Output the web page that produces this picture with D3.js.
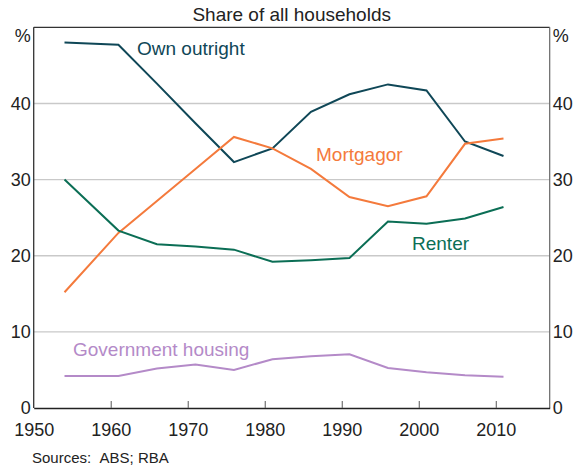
<!DOCTYPE html>
<html>
<head>
<meta charset="utf-8">
<script src="https://cdn.jsdelivr.net/npm/d3@7"></script>
<style>
  html, body { margin: 0; padding: 0; background: #fff; }
  svg { display: block; font-family: "Liberation Sans", Arial, sans-serif; }
</style>
</head>
<body>
<div id="chart"></div>
<script>
const years = [1954, 1961, 1966, 1971, 1976, 1981, 1986, 1991, 1996, 2001, 2006, 2011];
const ownOutright = [48.0, 47.7, 42.6, 37.4, 32.3, 34.1, 38.9, 41.2, 42.5, 41.7, 35.0, 33.1];
const mortgagor   = [15.2, 23.0, 27.2, 31.4, 35.6, 34.1, 31.4, 27.7, 26.5, 27.8, 34.7, 35.4];
const renter      = [30.0, 23.3, 21.5, 21.2, 20.8, 19.2, 19.4, 19.7, 24.5, 24.2, 24.9, 26.4];
const government  = [4.2, 4.2, 5.2, 5.7, 5.0, 6.4, 6.8, 7.05, 5.25, 4.7, 4.3, 4.1];
const xTicks = [1950, 1960, 1970, 1980, 1990, 2000, 2010];
const yTicks = [0, 10, 20, 30, 40];
const gridTicks = [10, 20, 30, 40];
const title = "Share of all households";
const source = "Sources:\u00a0\u00a0ABS; RBA";

const series = [
  { name: "Own outright", values: ownOutright, color: "#0f4757", lx: 137, ly: 55 },
  { name: "Mortgagor", values: mortgagor, color: "#f47a3c", lx: 316, ly: 161 },
  { name: "Renter", values: renter, color: "#0b6e55", lx: 412, ly: 250 },
  { name: "Government housing", values: government, color: "#b48ac8", lx: 73, ly: 356 }
];

const W = 573, H = 469;
const pLeft = 33.7, pRight = 549.7, pTop = 27.3, pBottom = 408;

const svg = d3.select("#chart").append("svg").attr("width", W).attr("height", H);

const x = d3.scaleLinear().domain([1950, 2017]).range([pLeft, pRight]);
const y = d3.scaleLinear().domain([0, 50]).range([pBottom, pTop]);

// gridlines
svg.append("g").selectAll("line").data(gridTicks).join("line")
  .attr("x1", pLeft).attr("x2", pRight)
  .attr("y1", d => y(d)).attr("y2", d => y(d))
  .attr("stroke", "#c9c9c9").attr("stroke-width", 1.4);

// frame
svg.append("line").attr("x1", pLeft).attr("x2", pRight).attr("y1", pTop).attr("y2", pTop)
  .attr("stroke", "#333").attr("stroke-width", 1.2);
svg.append("line").attr("x1", pRight).attr("x2", pRight).attr("y1", pTop).attr("y2", pBottom)
  .attr("stroke", "#666").attr("stroke-width", 1.2);
svg.append("line").attr("x1", pLeft).attr("x2", pLeft).attr("y1", pTop).attr("y2", pBottom)
  .attr("stroke", "#333").attr("stroke-width", 1.3);

// bottom axis
const xAxis = d3.axisBottom(x).tickValues(xTicks).tickFormat(d3.format("d"))
  .tickSizeInner(-7).tickSizeOuter(0).tickPadding(15);
const gx = svg.append("g").attr("transform", `translate(0,${pBottom})`).call(xAxis);
gx.select(".domain").attr("stroke", "#222").attr("stroke-width", 1.5);
gx.selectAll(".tick line").attr("stroke", "#666").attr("stroke-width", 1.1);
gx.selectAll(".tick text").attr("font-size", 18).attr("fill", "#222")
  .attr("font-family", "'Liberation Sans', Arial, sans-serif");
gx.selectAll(".tick").filter(d => d === 1950).select("line").remove();

// left axis labels
const yl = d3.axisLeft(y).tickValues(yTicks).tickSize(0).tickPadding(3);
const gyl = svg.append("g").attr("transform", `translate(${pLeft},0)`).call(yl);
gyl.select(".domain").remove();
gyl.selectAll(".tick text").attr("font-size", 18).attr("fill", "#222")
  .attr("font-family", "'Liberation Sans', Arial, sans-serif");

const yr = d3.axisRight(y).tickValues(yTicks).tickSize(0).tickPadding(3);
const gyr = svg.append("g").attr("transform", `translate(${pRight},0)`).call(yr);
gyr.select(".domain").remove();
gyr.selectAll(".tick text").attr("font-size", 18).attr("fill", "#222")
  .attr("font-family", "'Liberation Sans', Arial, sans-serif");

// % units
svg.append("text").attr("x", pLeft - 3).attr("y", 42).attr("text-anchor", "end")
  .attr("font-size", 18).attr("fill", "#222").text("%");
svg.append("text").attr("x", pRight + 3).attr("y", 42).attr("text-anchor", "start")
  .attr("font-size", 18).attr("fill", "#222").text("%");

// title
svg.append("text").attr("x", (pLeft + pRight) / 2).attr("y", 21).attr("text-anchor", "middle")
  .attr("font-size", 19).attr("fill", "#222").text(title);

// lines
const line = d3.line().x((d, i) => x(years[i])).y(d => y(d));
series.forEach(s => {
  svg.append("path").datum(s.values).attr("d", line)
    .attr("fill", "none").attr("stroke", s.color).attr("stroke-width", 2)
    .attr("stroke-linejoin", "miter");
  svg.append("text").attr("x", s.lx).attr("y", s.ly)
    .attr("font-size", 19).attr("fill", s.color).text(s.name);
});

// source
svg.append("text").attr("x", 32).attr("y", 463).attr("font-size", 15)
  .attr("fill", "#222").text(source);
</script>
</body>
</html>
